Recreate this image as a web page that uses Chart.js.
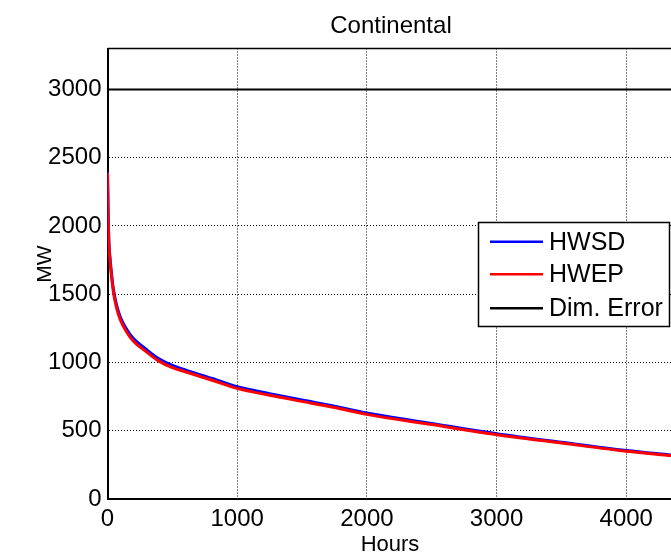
<!DOCTYPE html>
<html>
<head>
<meta charset="utf-8">
<script src="https://cdn.jsdelivr.net/npm/chart.js@4/dist/chart.umd.min.js"></script>
<style>
html,body{margin:0;padding:0;background:#fff;}
#wrap{width:671px;height:557px;position:relative;}
</style>
</head>
<body>
<div id="wrap"><canvas id="c"></canvas></div>
<script>
const chartTitle = "Continental";
const xTitle = "Hours";
const yTitle = "MW";
const hours = [0, 5, 10, 20, 30, 45, 70, 100, 150, 200, 300, 400, 500, 600, 800, 1000, 1250, 1500, 1750, 2000, 2500, 3000, 3500, 4000, 4345];
const hwsd  = [2400, 2100, 1900, 1760, 1660, 1540, 1420, 1330, 1240, 1175, 1095, 1025, 978, 945, 885, 822, 772, 725, 680, 630, 553, 478, 415, 355, 322];
const hwep  = [2390, 2080, 1880, 1740, 1640, 1520, 1400, 1310, 1220, 1155, 1078, 1008, 962, 932, 872, 810, 760, 715, 670, 620, 545, 471, 410, 350, 318];
const dimErrorX = [0, 4345];
const dimErrorY = [3000, 3000];
const xTicks = [0, 1000, 2000, 3000, 4000];
const yTicks = [0, 500, 1000, 1500, 2000, 2500, 3000];
const seriesNames = ["HWSD", "HWEP", "Dim. Error"];
const seriesColors = ["#0000ff", "#ff0000", "#000000"];

const toPts = (xs, ys) => xs.map((x, i) => ({x: x, y: ys[i]}));
const FONT = "Liberation Sans, Arial, sans-serif";

const decor = {
  id: 'decor',
  afterDraw(chart) {
    const ctx = chart.ctx;
    const a = chart.chartArea;
    ctx.save();
    ctx.strokeStyle = '#000';
    ctx.lineWidth = 1.5;
    ctx.beginPath();
    ctx.moveTo(a.left, a.top);
    ctx.lineTo(a.right, a.top);
    ctx.stroke();
    ctx.fillStyle = '#000';
    ctx.textAlign = 'center';
    ctx.textBaseline = 'middle';
    ctx.font = "24px " + FONT;
    ctx.fillText(chartTitle, 391, 26);
    ctx.font = "22px " + FONT;
    ctx.fillText(xTitle, 390, 545);
    ctx.save();
    ctx.translate(45, 264);
    ctx.rotate(-Math.PI / 2);
    ctx.font = "21px " + FONT;
    ctx.fillText(yTitle, 0, 0);
    ctx.restore();
    const lx = 478.5, ly = 222.5, lw = 191, lh = 104;
    ctx.fillStyle = '#fff';
    ctx.fillRect(lx, ly, lw, lh);
    ctx.strokeStyle = '#000';
    ctx.lineWidth = 1.5;
    ctx.strokeRect(lx, ly, lw, lh);
    const rows = [241.7, 274.3, 308.3];
    ctx.font = "25px " + FONT;
    ctx.textAlign = 'left';
    for (let i = 0; i < 3; i++) {
      ctx.strokeStyle = seriesColors[i];
      ctx.lineWidth = 2.5;
      ctx.beginPath();
      ctx.moveTo(490, rows[i]);
      ctx.lineTo(543, rows[i]);
      ctx.stroke();
      ctx.fillStyle = '#000';
      ctx.fillText(seriesNames[i], 549, rows[i] + 1);
    }
    ctx.restore();
  }
};

new Chart(document.getElementById('c'), {
  type: 'line',
  data: {
    datasets: [
      {label: seriesNames[0], data: toPts(hours, hwsd), borderColor: seriesColors[0], borderWidth: 3, pointRadius: 0, cubicInterpolationMode: 'monotone', order: 2},
      {label: seriesNames[1], data: toPts(hours, hwep), borderColor: seriesColors[1], borderWidth: 3, pointRadius: 0, cubicInterpolationMode: 'monotone', order: 1},
      {label: seriesNames[2], data: toPts(dimErrorX, dimErrorY), borderColor: seriesColors[2], borderWidth: 2, pointRadius: 0, order: 0}
    ]
  },
  options: {
    responsive: true,
    maintainAspectRatio: false,
    animation: false,
    layout: {padding: {top: 48.5, right: 0, left: 0, bottom: 0}},
    plugins: {legend: {display: false}, title: {display: false}, tooltip: {enabled: false}},
    scales: {
      x: {
        type: 'linear', min: 0, max: 4345,
        afterFit: s => { s.height = 58; },
        afterBuildTicks: s => { s.ticks = xTicks.map(v => ({value: v})); },
        ticks: {color: '#000', font: {family: FONT, size: 24}, padding: 6, maxRotation: 0, includeBounds: false, callback: v => String(v)},
        grid: {color: '#000', lineWidth: 1, drawTicks: false},
        border: {display: true, color: '#000', width: 2, dash: [1, 2]}
      },
      y: {
        type: 'linear', min: 0, max: 3300,
        afterFit: s => { s.width = 107.5; },
        afterBuildTicks: s => { s.ticks = yTicks.map(v => ({value: v})); },
        ticks: {color: '#000', font: {family: FONT, size: 24}, padding: 6, includeBounds: false, callback: v => String(v)},
        grid: {color: '#000', lineWidth: 1, drawTicks: false},
        border: {display: true, color: '#000', width: 2, dash: [1, 2]}
      }
    }
  },
  plugins: [decor]
});
</script>
</body>
</html>
